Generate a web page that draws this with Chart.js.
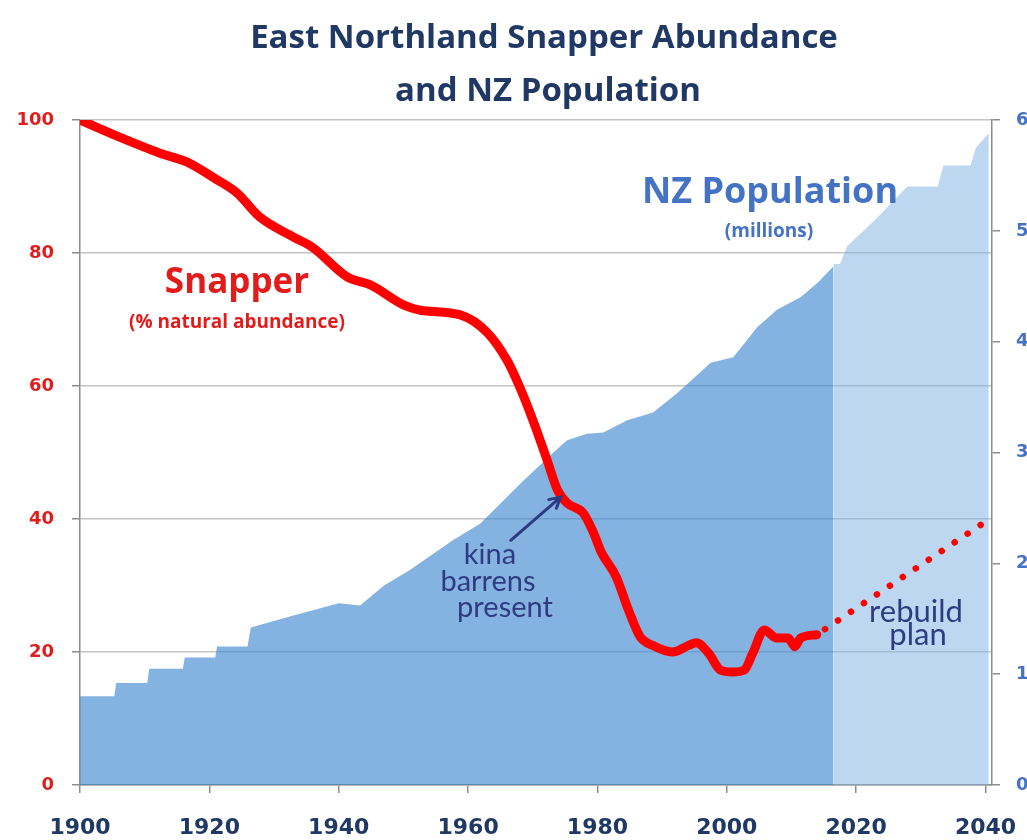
<!DOCTYPE html>
<html lang="en">
<head>
	<meta charset="UTF-8">
	<title>East Northland Snapper Abundance and NZ Population</title>
	<style>
		html, body { margin: 0; padding: 0; background: #fff; }
		#wrap { width: 1027px; height: 840px; }
	</style>
</head>
<body>
	<div id="wrap">
		<canvas id="chart" width="1027" height="840"></canvas>
	</div>

	<script src="https://cdn.jsdelivr.net/npm/chart.js"></script>
	<script>
		// snapper, % of natural abundance (left axis)
		const snapperYears = [1900, 1906.2, 1912.4, 1916.5, 1921.2, 1924.3, 1927.8, 1933, 1936, 1941.3, 1944.9, 1950, 1952.6, 1958.8, 1963, 1966, 1968, 1970, 1972.2, 1973.8, 1975.3, 1977.8, 1979.4, 1980.6, 1982.9, 1984.8, 1986.6, 1988.5, 1991.6, 1994.1, 1995.3, 1997.2, 1999, 2000.9, 2002.7, 2004, 2005.8, 2007.7, 2009.5, 2010.5, 2011.4, 2013.9];
		const snapperValues = [100, 97.4, 95, 93.7, 91, 89, 85.4, 82.4, 80.8, 76.4, 75.2, 72.2, 71.4, 70.7, 68, 63.9, 59.8, 54.9, 48.9, 44.4, 42.4, 40.9, 37.9, 35, 31.3, 26.3, 22.3, 21.0, 20.0, 21.0, 21.4, 19.8, 17.3, 17.0, 17.3, 19.8, 23.3, 22.1, 22.1, 20.8, 22.1, 22.6];

		// rebuild plan (dotted)
		const rebuildYears = [2013.9, 2040];
		const rebuildValues = [22.6, 39.6];

		// NZ population, millions (right axis)
		const popYears = [1900, 1905.3, 1905.6, 1910.4, 1910.7, 1915.9, 1916.2, 1920.9, 1921.2, 1925.9, 1926.4, 1933, 1940, 1943.3, 1947, 1951, 1957.7, 1961.9, 1968.1, 1973.2, 1975.3, 1978.4, 1980.9, 1984.6, 1988.6, 1992.4, 1997.5, 2001, 2004.7, 2007.8, 2011.4, 2014, 2016.5];
		const popValues = [0.80, 0.80, 0.92, 0.92, 1.05, 1.05, 1.15, 1.15, 1.25, 1.25, 1.42, 1.53, 1.64, 1.62, 1.80, 1.94, 2.21, 2.36, 2.72, 3.00, 3.11, 3.17, 3.18, 3.29, 3.36, 3.54, 3.81, 3.86, 4.13, 4.29, 4.40, 4.53, 4.68];

		// projected population
		const projYears = [2016.5, 2017.5, 2018.6, 2023.3, 2027.9, 2032.6, 2033.5, 2037.7, 2038.5, 2040.5];
		const projValues = [4.70, 4.70, 4.86, 5.12, 5.40, 5.40, 5.59, 5.59, 5.75, 5.88];

		const xTicks = [1900, 1920, 1940, 1960, 1980, 2000, 2020, 2040];
		const leftTicks = [0, 20, 40, 60, 80, 100];
		const rightTicks = [0, 1, 2, 3, 4, 5, 6];

		const toPts = (xs, ys) => xs.map((x, i) => ({ x: x, y: ys[i] }));

		const navy = '#1f3864';
		const red = '#ff0000';

		// keep the plot box fixed: no extra room for overhanging tick labels
		const noPad = (s) => { s.paddingLeft = 0; s.paddingRight = 0; s.paddingTop = 0; s.paddingBottom = 0; };

		const overlayText = {
			id: 'overlayText',
			afterDatasetsDraw(chart) {
				const c = chart.ctx;
				const xs = chart.scales.x, ys = chart.scales.y;
				c.save();
				c.textAlign = 'center';
				c.textBaseline = 'alphabetic';

				// title
				c.fillStyle = navy;
				c.font = 'bold 33px "Open Sans"';
				c.fillText('East Northland Snapper Abundance', 544, 48);
				c.fillText('and NZ Population', 548, 101);

				// series labels
				c.fillStyle = '#e31b1b';
				c.font = 'bold 35px "Open Sans"';
				c.fillText('Snapper', 237, 293);
				c.font = 'bold 19px "Open Sans"';
				c.fillText('(% natural abundance)', 237, 328);

				c.fillStyle = '#4472c4';
				c.font = 'bold 36px "Open Sans"';
				c.fillText('NZ Population', 770, 203);
				c.font = 'bold 19px "Open Sans"';
				c.fillText('(millions)', 769, 237);

				// kina note + arrow
				c.fillStyle = '#2e3b80';
				c.font = '29px Lato';
				c.fillText('kina', 490, 564);
				c.fillText('barrens', 488, 591);
				c.fillText('present', 505, 617);

				const tx = xs.getPixelForValue(1974.3), ty = ys.getPixelForValue(43.3);
				const fx = xs.getPixelForValue(1966.6), fy = ys.getPixelForValue(36.8);
				c.strokeStyle = '#2e3b80';
				c.lineWidth = 3;
				c.lineCap = 'round';
				c.beginPath();
				c.moveTo(fx, fy);
				c.lineTo(tx, ty);
				const a = Math.atan2(ty - fy, tx - fx);
				c.moveTo(tx - 12 * Math.cos(a - 0.5), ty - 12 * Math.sin(a - 0.5));
				c.lineTo(tx, ty);
				c.lineTo(tx - 12 * Math.cos(a + 0.5), ty - 12 * Math.sin(a + 0.5));
				c.stroke();

				c.font = '31px Lato';
				c.fillText('rebuild', 916, 622);
				c.fillText('plan', 918, 645);
				c.restore();
			}
		};

		const ctx = document.getElementById('chart').getContext('2d');
		const chart = new Chart(ctx, {
			type: 'line',
			data: {
				datasets: [
					{
						label: 'Snapper',
						data: toPts(snapperYears, snapperValues),
						yAxisID: 'y',
						borderColor: red,
						borderWidth: 9,
						borderCapStyle: 'round',
						borderJoinStyle: 'round',
						tension: 0.3,
						cubicInterpolationMode: 'monotone',
						pointRadius: 0,
						fill: false,
						order: 0
					},
					{
						label: 'Rebuild plan',
						data: toPts(rebuildYears, rebuildValues),
						yAxisID: 'y',
						borderColor: red,
						borderWidth: 6.5,
						borderCapStyle: 'round',
						borderDash: [0.1, 15.5],
						borderDashOffset: -10,
						pointRadius: 0,
						fill: false,
						order: 1
					},
					{
						label: 'NZ Population',
						data: toPts(popYears, popValues),
						yAxisID: 'y2',
						borderWidth: 0,
						backgroundColor: 'rgba(64,136,208,0.64)',
						pointRadius: 0,
						fill: 'origin',
						order: 2
					},
					{
						label: 'Projected population',
						data: toPts(projYears, projValues),
						yAxisID: 'y2',
						borderWidth: 0,
						backgroundColor: 'rgba(128,178,226,0.52)',
						pointRadius: 0,
						fill: 'origin',
						order: 3
					}
				]
			},
			options: {
				responsive: false,
				animation: false,
				layout: { padding: { top: 120, left: 0, right: 0, bottom: 0 } },
				plugins: {
					legend: { display: false },
					tooltip: { enabled: false },
					title: { display: false }
				},
				scales: {
					x: {
						type: 'linear',
						min: 1900,
						max: 2041,
						afterBuildTicks: (s) => { s.ticks = xTicks.map(v => ({ value: v })); },
						afterFit: (s) => { s.height = 55; noPad(s); },
						grid: { drawOnChartArea: false, drawTicks: true, tickLength: 8, color: '#8c8c8c', lineWidth: 1.5 },
						border: { color: '#8c8c8c', width: 1.5 },
						ticks: {
							color: navy,
							font: { family: 'DejaVu Sans', weight: 'bold', size: 22 },
							padding: 22,
							maxRotation: 0,
							callback: (v) => String(v)
						}
					},
					y: {
						position: 'left',
						min: 0,
						max: 100,
						afterBuildTicks: (s) => { s.ticks = leftTicks.map(v => ({ value: v })); },
						afterFit: (s) => { s.width = 80; noPad(s); },
						grid: {
							color: '#c4c4c4',
							lineWidth: 1.5,
							drawTicks: true,
							tickLength: 8,
							tickColor: '#8c8c8c'
						},
						border: { color: '#8c8c8c', width: 1.5 },
						ticks: {
							color: '#e01e1e',
							font: { family: 'DejaVu Sans', weight: 'bold', size: 18 },
							padding: 18
						}
					},
					y2: {
						position: 'right',
						min: 0,
						max: 6,
						afterBuildTicks: (s) => { s.ticks = rightTicks.map(v => ({ value: v })); },
						afterFit: (s) => { s.width = 35; noPad(s); },
						grid: { drawOnChartArea: false, drawTicks: true, tickLength: 8, color: '#8c8c8c', lineWidth: 1.5 },
						border: { color: '#8c8c8c', width: 1.5 },
						ticks: {
							color: '#4472c4',
							font: { family: 'DejaVu Sans', weight: 'bold', size: 18 },
							padding: 16
						}
					}
				}
			},
			plugins: [overlayText]
		});
	</script>
</body>
</html>
